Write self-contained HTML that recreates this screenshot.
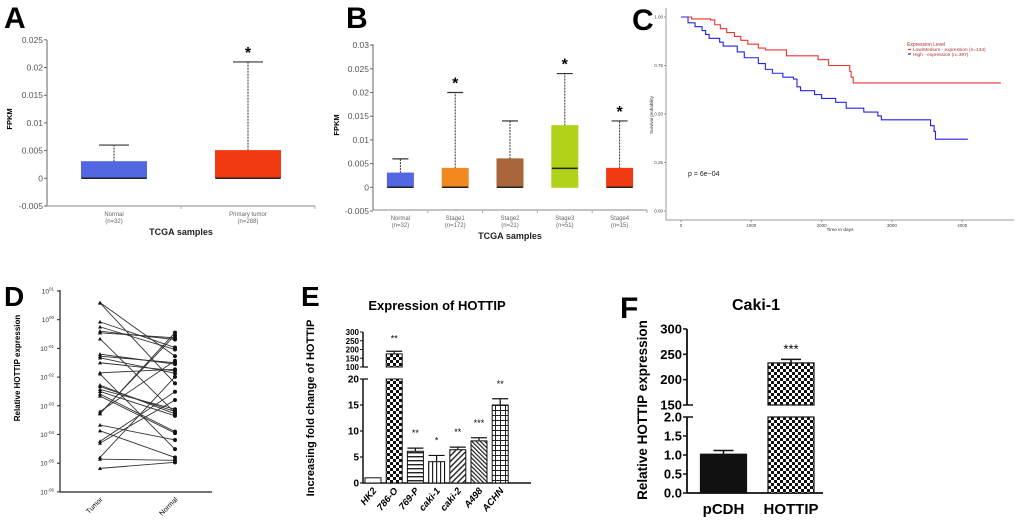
<!DOCTYPE html>
<html><head><meta charset="utf-8"><style>
html,body{margin:0;padding:0;background:#fff;}
svg{display:block;font-family:"Liberation Sans",sans-serif;}
</style></head><body>
<svg id="fig" width="1020" height="529" viewBox="0 0 1020 529" xmlns="http://www.w3.org/2000/svg">
<defs>
<pattern id="chk" width="6" height="6" patternUnits="userSpaceOnUse"><rect width="6" height="6" fill="#fff"/><rect width="3" height="3" fill="#111"/><rect x="3" y="3" width="3" height="3" fill="#111"/></pattern>
<pattern id="hl" width="4" height="4" patternUnits="userSpaceOnUse"><rect width="4" height="4" fill="#fff"/><rect y="0" width="4" height="1.4" fill="#222"/></pattern>
<pattern id="vl" width="4" height="4" patternUnits="userSpaceOnUse"><rect width="4" height="4" fill="#fff"/><rect x="0" width="1.2" height="4" fill="#222"/></pattern>
<pattern id="dg" width="4" height="4" patternUnits="userSpaceOnUse" patternTransform="rotate(45)"><rect width="4" height="4" fill="#fff"/><rect width="1.4" height="4" fill="#222"/></pattern>
<pattern id="dg2" width="3" height="3" patternUnits="userSpaceOnUse" patternTransform="rotate(-45)"><rect width="3" height="3" fill="#fff"/><rect width="1.2" height="3" fill="#222"/></pattern>
<pattern id="grd" width="5" height="5" patternUnits="userSpaceOnUse"><rect width="5" height="5" fill="#fff"/><rect width="5" height="1" fill="#222"/><rect width="1" height="5" fill="#222"/></pattern>
</defs>
<g id="layer"></g>
</svg>
<script>
// ---- Panel A data
const aCats = ["Normal","Primary tumor"];
const aN = ["(n=32)","(n=288)"];
const aQ3 = [0.003,0.005];
const aMed = [0,0];
const aQ1 = [0,0];
const aWhisk = [0.006,0.021];
const aSig = ["","*"];
const aTicks = [0.025,0.02,0.015,0.01,0.005,0,-0.005];
const aTickLabels = ["0.025","0.02","0.015","0.01","0.005","0","-0.005"];
const aColors = ["#5467e2","#f23a12"];
// ---- Panel B data
const bCats = ["Normal","Stage1","Stage2","Stage3","Stage4"];
const bN = ["(n=32)","(n=172)","(n=21)","(n=51)","(n=15)"];
const bQ3 = [0.003,0.004,0.006,0.013,0.004];
const bMed = [0,0,0,0.004,0];
const bQ1 = [0,0,0,0,0];
const bWhisk = [0.006,0.020,0.014,0.024,0.014];
const bSig = ["","*","","*","*"];
const bTicks = [0.03,0.025,0.02,0.015,0.01,0.005,0,-0.005];
const bTickLabels = ["0.03","0.025","0.02","0.015","0.01","0.005","0","-0.005"];
const bColors = ["#5467e2","#f08a1e","#a9663a","#b0d31a","#f23a12"];
// ---- Panel C data (Kaplan-Meier)
const redDays = [0,150,420,480,560,650,760,850,950,1100,1200,1500,1950,2100,2400,2420,2450,4550];
const redSurv = [1.0,0.99,0.985,0.96,0.94,0.92,0.90,0.88,0.86,0.84,0.83,0.80,0.78,0.75,0.72,0.69,0.66,0.66];
const blueDays = [0,100,200,300,350,400,550,600,800,900,1100,1200,1300,1450,1600,1650,1700,1900,2000,2200,2350,2600,2800,2850,3550,3600,3620,4080];
const blueSurv = [1.0,0.97,0.95,0.93,0.91,0.89,0.87,0.85,0.82,0.79,0.76,0.73,0.71,0.69,0.68,0.64,0.62,0.60,0.58,0.56,0.53,0.51,0.49,0.47,0.44,0.41,0.37,0.37];
const cXTicks = [0,1000,2000,3000,4000];
const cYTicks = [1.0,0.75,0.5,0.25,0.0];
const cYTickLabels = ["1.00","0.75","0.50","0.25","0.00"];
// ---- Panel D data (log10 values)
const dTumor = [0.595,0.583,-0.076,-0.25,-0.40,-0.458,-0.667,-1.20,-1.27,-1.33,-1.50,-1.85,-1.89,-2.28,-2.33,-2.43,-2.50,-2.59,-2.66,-3.20,-3.26,-3.28,-3.67,-3.87,-4.24,-4.30,-4.80,-4.86,-5.18];
const dNormal = [-1.27,-2.22,-0.97,-1.04,-0.69,-0.63,-3.24,-1.55,-1.50,-1.87,-1.78,-1.73,-4.51,-3.28,-3.20,-3.12,-3.35,-3.90,-3.95,-1.43,-0.54,-0.45,-4.19,-4.80,-2.51,-2.80,-1.99,-4.90,-4.97];
const dYTicks = [1,0,-1,-2,-3,-4,-5,-6];
const dYTickLabels = ["01","00","-01","-02","-03","-04","-05","-06"];
// ---- Panel E data
const eCats = ["HK2","786-O","769-P","caki-1","caki-2","A498","ACHN"];
const eVals = [1,175,6.1,4.1,6.4,8.1,15];
const eErr = [0,15,0.6,1.2,0.5,0.6,1.2];
const eSig = ["","**","**","*","**","***","**"];
const eFills = ["#fff","url(#chk)","url(#hl)","url(#vl)","url(#dg)","url(#dg2)","url(#grd)"];
const eLowTicks = [0,5,10,15,20];
const eHighTicks = [100,150,200,250,300];
// ---- Panel F data
const fCats = ["pCDH","HOTTIP"];
const fVals = [1.02,233];
const fErr = [0.1,7];
const fSig = ["","***"];
const fFills = ["#111","url(#chk)"];
const fLowTicks = [0,0.5,1.0,1.5,2.0];
const fLowLabels = ["0.0","0.5","1.0","1.5","2.0"];
const fHighTicks = [150,200,250,300];

const NS = "http://www.w3.org/2000/svg";
const layer = document.getElementById('layer');
function mk(tag, attrs, parent, text){
  const e = document.createElementNS(NS, tag);
  for (const k in attrs) e.setAttribute(k, attrs[k]);
  if (text !== undefined) e.textContent = text;
  (parent||layer).appendChild(e);
  return e;
}
function grp(name){
  const g = mk('g', {});
  
  
  return g;
}
function letter(ch, x, y, size){
  const t = mk('text', {x:x, y:y, 'font-size':size, 'font-weight':'bold', fill:'#000'}, layer, ch);
  
  
}

function boxPanel(name, cfg){
  const g = grp(name);
  const y = v => cfg.y0 + (v - 0) * cfg.ppu * -1;
  mk('line',{x1:cfg.ax,y1:cfg.top,x2:cfg.ax,y2:cfg.bottom,stroke:'#666','stroke-width':1},g);
  mk('line',{x1:cfg.ax,y1:cfg.bottom,x2:cfg.right,y2:cfg.bottom,stroke:'#888','stroke-width':1},g);
  cfg.ticks.forEach((t,i)=>{
    mk('line',{x1:cfg.ax-3,y1:y(t),x2:cfg.ax,y2:y(t),stroke:'#666'},g);
    const tl = mk('text',{x:cfg.ax-4,y:y(t)+3,'font-size':cfg.fs,'text-anchor':'end',fill:'#555'},g,cfg.tickLabels[i]);
    
    
  });
  const n = cfg.cats.length;
  const slot = (cfg.right - cfg.ax)/n;
  for(let i=0;i<n;i++){
    const cx = cfg.ax + slot*(i+0.5);
    const bw = cfg.bw;
    mk('line',{x1:cfg.ax+slot*(i+1),y1:cfg.bottom,x2:cfg.ax+slot*(i+1),y2:cfg.bottom+3,stroke:'#aaa'},g);
    const wl = mk('line',{x1:cx,y1:y(cfg.q3[i]),x2:cx,y2:y(cfg.whisk[i]),stroke:'#333','stroke-width':1,'stroke-dasharray':'2,1'},g);
    
    
    mk('line',{x1:cx-cfg.cap,y1:y(cfg.whisk[i]),x2:cx+cfg.cap,y2:y(cfg.whisk[i]),stroke:'#333','stroke-width':1.2},g);
    const b = mk('rect',{x:cx-bw/2,y:y(cfg.q3[i]),width:bw,height:y(cfg.q1[i])-y(cfg.q3[i]),fill:cfg.colors[i],stroke:cfg.colors[i]},g);
    
    
    mk('line',{x1:cx-bw/2,y1:y(cfg.med[i]),x2:cx+bw/2,y2:y(cfg.med[i]),stroke:'#222','stroke-width':1.5},g);
    if(cfg.sig[i]){
      const s = mk('text',{x:cx,y:y(cfg.whisk[i])-4,'font-size':16,'text-anchor':'middle','font-weight':'bold'},g,cfg.sig[i]);
      
      
    }
    const l1 = mk('text',{x:cx,y:cfg.bottom+10,'font-size':6,'text-anchor':'middle',fill:'#666'},g,cfg.cats[i]);
    
    
    mk('text',{x:cx,y:cfg.bottom+17,'font-size':6,'text-anchor':'middle',fill:'#666'},g,cfg.nlab[i]);
  }
  const xt = mk('text',{x:(cfg.ax+cfg.right)/2,y:cfg.bottom+29,'font-size':9,'text-anchor':'middle','font-weight':'bold',fill:'#222'},g,'TCGA samples');
  
  
  const yt = mk('text',{x:0,y:0,'font-size':7.5,'text-anchor':'middle','font-weight':'bold',transform:`translate(${cfg.ylx},${cfg.yly}) rotate(-90)`},g,'FPKM');
  
  
}
letter('A',4,28,30);
boxPanel('panel-a-boxplot',{ax:47,top:40,bottom:206,right:315,y0:178.3,ppu:5540,ticks:aTicks,tickLabels:aTickLabels,cats:aCats,nlab:aN,q1:aQ1,q3:aQ3,med:aMed,whisk:aWhisk,sig:aSig,colors:aColors,bw:65,cap:15,fs:8.5,ylx:12,yly:119});
letter('B',346,28,30);
boxPanel('panel-b-boxplot',{ax:373,top:44,bottom:210,right:647,y0:187.3,ppu:4740,ticks:bTicks,tickLabels:bTickLabels,cats:bCats,nlab:bN,q1:bQ1,q3:bQ3,med:bMed,whisk:bWhisk,sig:bSig,colors:bColors,bw:26,cap:8,fs:8.5,ylx:339,yly:125});

letter('C',632,30,30);
(function(){
  const g = grp('panel-c-survival');
  const x = d => 681 + d*0.0703;
  const y = s => 211 - s*194;
  mk('line',{x1:666,y1:8,x2:666,y2:220,stroke:'#999'},g);
  mk('line',{x1:666,y1:220,x2:1014,y2:220,stroke:'#999'},g);
  cYTicks.forEach((t,i)=>{
    mk('line',{x1:664,y1:y(t),x2:666,y2:y(t),stroke:'#999'},g);
    mk('text',{x:663,y:y(t)+1.5,'font-size':4.5,'text-anchor':'end',fill:'#444'},g,cYTickLabels[i]);
  });
  cXTicks.forEach(t=>{
    mk('line',{x1:x(t),y1:220,x2:x(t),y2:222,stroke:'#999'},g);
    mk('text',{x:x(t),y:227,'font-size':4.5,'text-anchor':'middle',fill:'#444'},g,String(t));
  });
  mk('text',{x:840,y:231,'font-size':4.8,'text-anchor':'middle',fill:'#333'},g,'Time in days');
  mk('text',{x:0,y:0,'font-size':4.5,'text-anchor':'middle',fill:'#333',transform:'translate(653,115) rotate(-90)'},g,'Survival probability');
  function step(days, surv, col, name){
    let d = `M${x(days[0])},${y(surv[0])}`;
    for(let i=1;i<days.length;i++){ d += ` H${x(days[i])} V${y(surv[i])}`; }
    const p = mk('path',{d:d,fill:'none',stroke:col,'stroke-width':1.1},g);
    
    
  }
  step(redDays, redSurv, '#f03030', 'low-medium-expression-curve');
  step(blueDays, blueSurv, '#2222ee', 'high-expression-curve');
  const lg = mk('g',{},g);
  
  
  mk('text',{x:907,y:46,'font-size':5,fill:'#a33'},lg,'Expression Level');
  mk('line',{x1:908,y1:49.5,x2:911,y2:49.5,stroke:'#f03030','stroke-width':1.2},lg);
  mk('text',{x:913,y:51,'font-size':4.8,fill:'#a33'},lg,'Low/Medium - expression (n=134)');
  mk('line',{x1:908,y1:54,x2:911,y2:54,stroke:'#2222ee','stroke-width':1.2},lg);
  mk('text',{x:913,y:56,'font-size':4.8,fill:'#a33'},lg,'High - expression (n=397)');
  const pv = mk('text',{x:688,y:176,'font-size':7,fill:'#222'},g,'p = 6e\u221204');
  
  
})();

letter('D',4,306,28);
(function(){
  const g = grp('panel-d-paired');
  const y = l => 291 + (1 - l)*28.7;
  const xT = 100, xN = 175;
  mk('line',{x1:60,y1:290,x2:60,y2:492,stroke:'#222','stroke-width':1.2},g);
  mk('line',{x1:60,y1:492,x2:212,y2:492,stroke:'#222','stroke-width':1.2},g);
  dYTicks.forEach((t,i)=>{
    mk('line',{x1:57,y1:y(t),x2:60,y2:y(t),stroke:'#222'},g);
    const tx = mk('text',{x:54,y:y(t)+2.5,'font-size':6.5,'text-anchor':'end',fill:'#333'},g);
    tx.appendChild(document.createTextNode('10'));
    const ts = document.createElementNS(NS,'tspan'); ts.setAttribute('dy','-3'); ts.setAttribute('font-size','4.5'); ts.textContent = dYTickLabels[i]; tx.appendChild(ts);
  });
  mk('text',{x:0,y:0,'font-size':8,'font-weight':'bold','text-anchor':'middle',transform:'translate(20,368) rotate(-90)'},g,'Relative HOTTIP expression');
  mk('text',{x:0,y:0,'font-size':7,'text-anchor':'end',transform:`translate(${xT+3},500) rotate(-45)`},g,'Tumor');
  mk('text',{x:0,y:0,'font-size':7,'text-anchor':'end',transform:`translate(${xN+3},500) rotate(-45)`},g,'Normal');
  for(let i=0;i<dTumor.length;i++){
    const ln = mk('line',{x1:xT,y1:y(dTumor[i]),x2:xN,y2:y(dNormal[i]),stroke:'#333','stroke-width':0.9},g);
    
    
    const ty = y(dTumor[i]);
    const tri = mk('polygon',{points:`${xT-2},${ty+1.6} ${xT+2},${ty+1.6} ${xT},${ty-2}`,fill:'#111'},g);
    
    
    const c = mk('circle',{cx:xN,cy:y(dNormal[i]),r:2,fill:'#111'},g);
    
    
  }
})();

letter('E',301,306,28);
(function(){
  const g = grp('panel-e-bars');
  const yl = v => 483 - v*5.2;
  const yh = v => 367 - (v-100)*0.175;
  const yv = v => v <= 20 ? yl(v) : yh(v);
  const ax = 363;
  mk('line',{x1:ax,y1:483,x2:ax,y2:379,stroke:'#111','stroke-width':1.5},g);
  mk('line',{x1:ax,y1:367,x2:ax,y2:332,stroke:'#111','stroke-width':1.5},g);
  mk('line',{x1:ax,y1:483,x2:531,y2:483,stroke:'#111','stroke-width':1.5},g);
  mk('line',{x1:ax,y1:379,x2:ax+5,y2:379,stroke:'#111','stroke-width':1.3},g);
  mk('line',{x1:ax,y1:367,x2:ax+5,y2:367,stroke:'#111','stroke-width':1.3},g);
  eLowTicks.forEach(t=>{
    mk('line',{x1:ax-3,y1:yl(t),x2:ax,y2:yl(t),stroke:'#111','stroke-width':1.2},g);
    mk('text',{x:ax-4,y:yl(t)+3.5,'font-size':10,'font-weight':'bold','text-anchor':'end'},g,String(t));
  });
  eHighTicks.forEach(t=>{
    mk('line',{x1:ax-3,y1:yh(t),x2:ax,y2:yh(t),stroke:'#111'},g);
    mk('text',{x:ax-4,y:yh(t)+3,'font-size':8,'font-weight':'bold','text-anchor':'end'},g,String(t));
  });
  const tt = mk('text',{x:437,y:310,'font-size':13,'font-weight':'bold','text-anchor':'middle'},g,'Expression of HOTTIP');
  
  
  mk('text',{x:0,y:0,'font-size':11,'font-weight':'bold','text-anchor':'middle',transform:'translate(314,408) rotate(-90)'},g,'Increasing fold change of HOTTIP');
  eCats.forEach((c,i)=>{
    const cx = 373 + i*21.2, bw = 16;
    const v = eVals[i];
    if(v > 20){
      const r1 = mk('rect',{x:cx-bw/2,y:yl(20),width:bw,height:483-yl(20),fill:eFills[i],stroke:'#111','stroke-width':1},g);
      
      
      mk('rect',{x:cx-bw/2,y:yh(v),width:bw,height:367-yh(v),fill:eFills[i],stroke:'#111','stroke-width':1},g);
    } else {
      const r = mk('rect',{x:cx-bw/2,y:yl(v),width:bw,height:483-yl(v),fill:eFills[i],stroke:'#111','stroke-width':1},g);
      
      
    }
    if(eErr[i]){
      const e = yv(v+eErr[i]);
      mk('line',{x1:cx,y1:yv(v),x2:cx,y2:e,stroke:'#111','stroke-width':1.2},g);
      mk('line',{x1:cx-bw/2,y1:e,x2:cx+bw/2,y2:e,stroke:'#111','stroke-width':1.2},g);
    }
    if(eSig[i]){
      const s = mk('text',{x:cx,y:yv(v+eErr[i])-(v>20?10:12),'font-size':9,'text-anchor':'middle'},g,eSig[i]);
      
      
    }
    const l = mk('text',{x:0,y:0,'font-size':9.5,'font-weight':'bold','font-style':'italic','text-anchor':'end',transform:`translate(${cx+4},491) rotate(-50)`},g,c);
    
    
  });
})();

letter('F',620,318,30);
(function(){
  const g = grp('panel-f-bars');
  const yl = v => 493 - v*38;
  const yh = v => 405 - (v-150)*0.507;
  const ax = 687;
  mk('line',{x1:ax,y1:493,x2:ax,y2:417,stroke:'#111','stroke-width':1.8},g);
  mk('line',{x1:ax,y1:405,x2:ax,y2:329,stroke:'#111','stroke-width':1.8},g);
  mk('line',{x1:ax,y1:493,x2:823,y2:493,stroke:'#111','stroke-width':1.8},g);
  mk('line',{x1:ax,y1:417,x2:ax+6,y2:417,stroke:'#111','stroke-width':1.5},g);
  mk('line',{x1:ax,y1:405,x2:ax+6,y2:405,stroke:'#111','stroke-width':1.5},g);
  fLowTicks.forEach((t,i)=>{
    mk('line',{x1:ax-4,y1:yl(t),x2:ax,y2:yl(t),stroke:'#111','stroke-width':1.5},g);
    mk('text',{x:ax-5,y:yl(t)+4.5,'font-size':13,'font-weight':'bold','text-anchor':'end'},g,fLowLabels[i]);
  });
  fHighTicks.forEach(t=>{
    mk('line',{x1:ax-4,y1:yh(t),x2:ax,y2:yh(t),stroke:'#111','stroke-width':1.5},g);
    mk('text',{x:ax-5,y:yh(t)+4.5,'font-size':13,'font-weight':'bold','text-anchor':'end'},g,String(t));
  });
  const tt = mk('text',{x:756,y:310,'font-size':16,'font-weight':'bold','text-anchor':'middle'},g,'Caki-1');
  
  
  mk('text',{x:0,y:0,'font-size':13.5,'font-weight':'bold','text-anchor':'middle',transform:'translate(647,410) rotate(-90)'},g,'Relative HOTTIP expression');
  fCats.forEach((c,i)=>{
    const cx = 723.5 + i*67.5, bw = 46;
    const v = fVals[i];
    if(v > 2){
      const r1 = mk('rect',{x:cx-bw/2,y:yl(2),width:bw,height:493-yl(2),fill:fFills[i],stroke:'#111','stroke-width':1.2},g);
      
      
      mk('rect',{x:cx-bw/2,y:yh(v),width:bw,height:405-yh(v),fill:fFills[i],stroke:'#111','stroke-width':1.2},g);
      const e = yh(v+fErr[i]);
      mk('line',{x1:cx,y1:yh(v),x2:cx,y2:e,stroke:'#111','stroke-width':1.5},g);
      mk('line',{x1:cx-10,y1:e,x2:cx+10,y2:e,stroke:'#111','stroke-width':1.5},g);
      const s = mk('text',{x:cx,y:e-6,'font-size':13,'text-anchor':'middle'},g,fSig[i]);
      
      
    } else {
      const r = mk('rect',{x:cx-bw/2,y:yl(v),width:bw,height:493-yl(v),fill:fFills[i],stroke:'#111','stroke-width':1.2},g);
      
      
      const e = yl(v+fErr[i]);
      mk('line',{x1:cx,y1:yl(v),x2:cx,y2:e,stroke:'#111','stroke-width':1.5},g);
      mk('line',{x1:cx-10,y1:e,x2:cx+10,y2:e,stroke:'#111','stroke-width':1.5},g);
    }
    const l = mk('text',{x:cx,y:514,'font-size':15,'font-weight':'bold','text-anchor':'middle'},g,c);
    
    
  });
})();
</script>
</body></html>
